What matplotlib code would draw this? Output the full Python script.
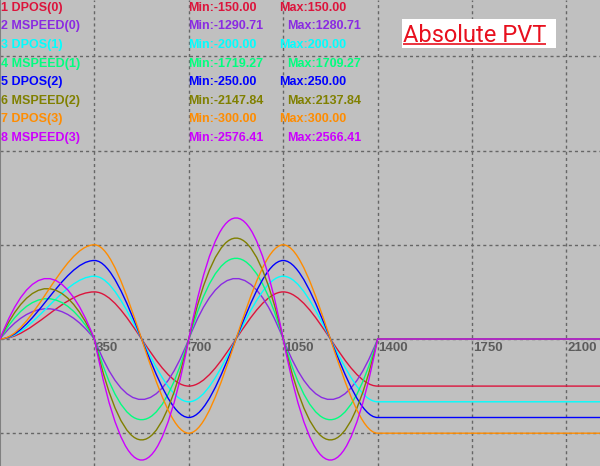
"""
Scope capture of an absolute PVT move on four axes: commanded position
(DPOS) and measured speed (MSPEED) for each axis, drawn like the
controller's oscilloscope window.
"""

import matplotlib
matplotlib.use("Agg")
import matplotlib.pyplot as plt
from matplotlib.path import Path
from matplotlib.patches import PathPatch, Rectangle

plt.rcParams["lines.scale_dashes"] = False

# PVT points (ms), same for every axis
PVT_TIMES = [0, 350, 700, 1050, 1400]

# commanded position at each PVT point, per axis
DPOS_POINTS = [
    [0, 150, -150, 150, -150],
    [0, 200, -200, 200, -200],
    [0, 250, -250, 250, -250],
    [0, 300, -300, 300, -300],
]

# peak speed inside each PVT segment, per axis
MSPEED_PEAKS = [
    [643, -1286, 1286, -1286],
    [857, -1714, 1714, -1714],
    [1071, -2143, 2143, -2143],
    [1286, -2571, 2571, -2571],
]

TRACE_NAMES = ["DPOS(0)", "MSPEED(0)", "DPOS(1)", "MSPEED(1)",
               "DPOS(2)", "MSPEED(2)", "DPOS(3)", "MSPEED(3)"]
TRACE_MIN = ["-150.00", "-1290.71", "-200.00", "-1719.27",
             "-250.00", "-2147.84", "-300.00", "-2576.41"]
TRACE_MAX = ["150.00", "1280.71", "200.00", "1709.27",
             "250.00", "2137.84", "300.00", "2566.41"]
TRACE_COLORS = ["#DC143C", "#8A2BE2", "#00FFFF", "#00FF7F",
                "#0000FF", "#808000", "#FF8C00", "#CC00FF"]

X_TICKS = [350, 700, 1050, 1400, 1750, 2100]

# scope scale: units per division
MS_PER_DIV = 350
DPOS_PER_DIV = 300
MSPEED_PER_DIV = 2000

W, H = 600, 466
ZERO_Y = 339      # pixel row of the zero line
DIV_PX = 94.2     # pixels per division
BG = "#C0C0C0"
GRID = "#666666"
TICK_TEXT = "#5C5C5C"
TITLE_RED = "#E8101E"


def px(x, y):
    """pixel position -> axes fraction"""
    return x / W, 1 - y / H


def position_path(times, points, scale, t_end):
    # PVT segment with zero end velocity = cubic Bezier with flat handles
    verts = [(times[0], points[0] / scale)]
    codes = [Path.MOVETO]
    for i in range(len(times) - 1):
        t0, t1 = times[i], times[i + 1]
        p0, p1 = points[i] / scale, points[i + 1] / scale
        d = (t1 - t0) / 3
        verts += [(t0 + d, p0), (t1 - d, p1), (t1, p1)]
        codes += [Path.CURVE4] * 3
    verts.append((t_end, points[-1] / scale))
    codes.append(Path.LINETO)
    return Path(verts, codes)


def speed_path(times, peaks, scale, t_end):
    # parabolic speed lobe per segment = quadratic Bezier
    verts = [(times[0], 0)]
    codes = [Path.MOVETO]
    for i, pk in enumerate(peaks):
        t0, t1 = times[i], times[i + 1]
        verts += [((t0 + t1) / 2, 2 * pk / scale), (t1, 0)]
        codes += [Path.CURVE3] * 2
    verts.append((t_end, 0))
    codes.append(Path.LINETO)
    return Path(verts, codes)


fig = plt.figure(figsize=(W / 100, H / 100), dpi=100)
fig.patch.set_facecolor(BG)
ax = fig.add_axes([0, 0, 1, 1])
ax.set_facecolor(BG)

x_max = W / 94.4 * MS_PER_DIV
ax.set_xlim(0, x_max)
ax.set_ylim(-(H - ZERO_Y) / DIV_PX, ZERO_Y / DIV_PX)

ax.set_xticks(X_TICKS)
ax.set_yticks([-1, 0, 1, 2, 3])
ax.tick_params(length=0, labelbottom=False, labelleft=False)
ax.grid(True, color=GRID, linewidth=1.0, linestyle=(0, (2.2, 2.2)))
ax.set_axisbelow(True)
for side in ("top", "right", "bottom"):
    ax.spines[side].set_visible(False)
ax.spines["left"].set_color("#808080")
ax.spines["left"].set_linewidth(1.5)

# traces, in channel order (later ones on top)
for axis in range(4):
    pos = position_path(PVT_TIMES, DPOS_POINTS[axis], DPOS_PER_DIV, x_max)
    spd = speed_path(PVT_TIMES, MSPEED_PEAKS[axis], MSPEED_PER_DIV, x_max)
    ax.add_patch(PathPatch(pos, fill=False, lw=1.0,
                           edgecolor=TRACE_COLORS[2 * axis], zorder=3))
    ax.add_patch(PathPatch(spd, fill=False, lw=1.0,
                           edgecolor=TRACE_COLORS[2 * axis + 1], zorder=3))

# time labels under the zero line
for t in X_TICKS:
    ax.annotate(str(t), (t, 0), xytext=(0.6, -2), textcoords="offset points",
                ha="left", va="top", fontsize=9.5, fontweight="bold",
                color=TICK_TEXT, family="Liberation Sans", zorder=4)

# channel legend with min / max
for i, name in enumerate(TRACE_NAMES):
    y = 7.8 + 18.6 * i
    kw = dict(transform=ax.transAxes, va="center", ha="left", fontsize=9,
              fontweight="bold", color=TRACE_COLORS[i],
              family="Liberation Sans", zorder=5)
    ax.text(*px(1, y), f"{i + 1} {name}", **kw)
    ax.text(*px(188, y), f"Min:{TRACE_MIN[i]}", **kw)
    max_x = 279 + 8 * (len(TRACE_MIN[i]) - 7)
    ax.text(*px(max_x, y), f"Max:{TRACE_MAX[i]}", **kw)

# title box
x0, y0 = px(402, 48)
x1, y1 = px(556, 19)
ax.add_patch(Rectangle((x0, y0), x1 - x0, y1 - y0, transform=ax.transAxes,
                       facecolor="white", edgecolor="none", zorder=5))
title = ax.text(*px(403, 42), "Absolute PVT", transform=ax.transAxes,
                ha="left", va="baseline", fontsize=17, family="Roboto",
                color=TITLE_RED, zorder=6)
fig.canvas.draw()
bb = title.get_window_extent()
ax.plot([bb.x0 / W, bb.x1 / W], [1 - 44 / H, 1 - 44 / H],
        transform=ax.transAxes, color=TITLE_RED, lw=1.2, zorder=6,
        solid_capstyle="butt")

fig.savefig("out.png", dpi=100, facecolor=BG)
